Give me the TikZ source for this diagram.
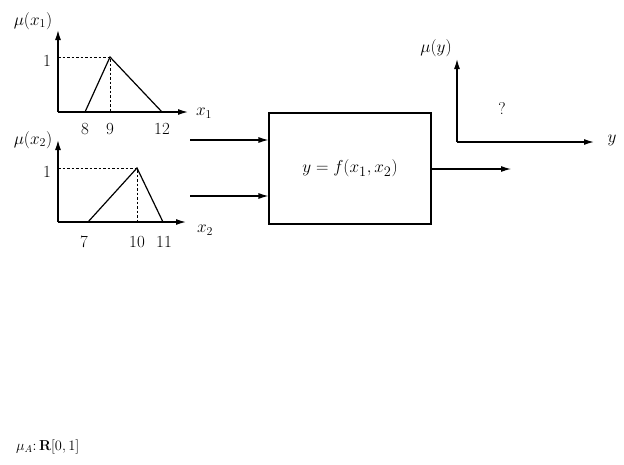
\documentclass[tikz,border=0pt]{standalone}
\usetikzlibrary{arrows.meta}
\begin{document}
\begin{tikzpicture}[x=1pt,y=-1pt,
  axis/.style={line width=1.3pt,-{Latex[length=10pt,width=6pt]}},
  memb/.style={line width=1.2pt},
  guide/.style={line width=0.6pt,dash pattern=on 2.5pt off 2pt},
  lbl/.style={inner sep=0pt,font=\fontsize{18}{21}\selectfont},
  num/.style={inner sep=0pt,font=\fontsize{17}{20}\selectfont},
  block/.style={draw,line width=1.1pt,minimum width=162pt,minimum height=111pt,inner sep=0pt,font=\fontsize{19}{22}\selectfont},
  sig/.style={line width=1.1pt,-{Latex[length=10pt,width=6pt]}}]
\useasboundingbox (0,0) rectangle (624,464);
% top membership function
\coordinate (o1) at (58,112);
\coordinate (y1) at (58,30);
\coordinate (x1e) at (188,112);
\coordinate (a1) at (85,112);
\coordinate (p1) at (110,57);
\coordinate (c1) at (162,112);
\coordinate (h1) at (58,57);
\coordinate (f1) at (110,112);
\draw[axis] (o1) -- (y1);
\draw[axis] (o1) -- (x1e);
\draw[memb] (a1) -- (p1) -- (c1);
\draw[guide] (h1) -- (p1) -- (f1);
\node[lbl] (m1) at (33,21) {$\mu(x_1)$};
\node[lbl] (X1) at (204,113) {$x_1$};
\node[num] (one1) at (47,61) {1};
\node[num] (n8) at (85,129) {8};
\node[num] (n9) at (110,129) {9};
\node[num] (n12) at (162,129) {12};
% bottom membership function
\coordinate (o2) at (58,222);
\coordinate (y2) at (58,140);
\coordinate (x2e) at (186,222);
\coordinate (a2) at (88,222);
\coordinate (p2) at (137,168);
\coordinate (c2) at (163,222);
\coordinate (h2) at (58,168);
\coordinate (f2) at (137,222);
\draw[axis] (o2) -- (y2);
\draw[axis] (o2) -- (x2e);
\draw[memb] (a2) -- (p2) -- (c2);
\draw[guide] (h2) -- (p2) -- (f2);
\node[lbl] (m2) at (33,140) {$\mu(x_2)$};
\node[lbl] (X2) at (205,230) {$x_2$};
\node[num] (one2) at (47,172) {1};
\node[num] (n7) at (84,242) {7};
\node[num] (n10) at (137,242) {10};
\node[num] (n11) at (164,242) {11};
% block
\node[block] (F) at (350,168.5) {$y=f(x_1,x_2)$};
\coordinate (in1) at (190,140);
\coordinate (in2) at (190,196);
\draw[sig] (in1) -- (in1 -| F.west);
\draw[sig] (in2) -- (in2 -| F.west);
\coordinate (out) at (511,169);
\draw[sig] (F.east |- out) -- (out);
% output axes
\coordinate (o3) at (457,142);
\coordinate (y3) at (457,59);
\coordinate (x3e) at (594,142);
\draw[axis] (o3) -- (y3);
\draw[axis] (o3) -- (x3e);
\node[lbl] (m3) at (436,48) {$\mu(y)$};
\node[lbl] (Y) at (612,140) {$y$};
\node[num] (q) at (502,109) {?};
% bottom note
\node[inner sep=0pt,anchor=west,font=\fontsize{14}{17}\selectfont] (note) at (16,447) {$\mu_A\colon\mathbf{R}[0,1]$};
\end{tikzpicture}
\end{document}
